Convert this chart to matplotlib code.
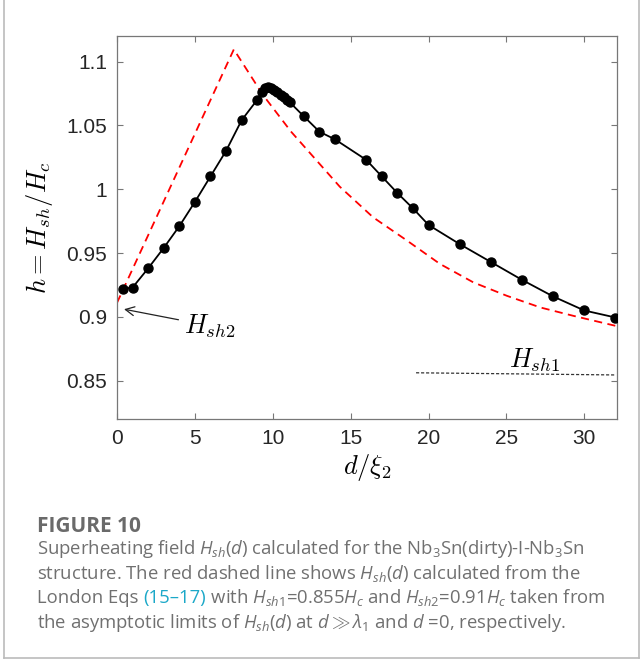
import matplotlib
matplotlib.use("Agg")
import matplotlib.pyplot as plt
from matplotlib.lines import Line2D

# numerical H_sh(d) (black dots)
d_num = [0.4, 1, 2, 3, 4, 5, 6, 7, 8, 9, 9.3, 9.5, 9.7, 9.9, 10.1, 10.3, 10.5,
         10.7, 10.9, 11.1, 12, 13, 14, 16, 17, 18, 19, 20, 22, 24, 26, 28, 30, 32]
h_num = [0.922, 0.923, 0.938, 0.954, 0.971, 0.990, 1.010, 1.030, 1.054, 1.070,
         1.076, 1.079, 1.080, 1.079, 1.078, 1.076, 1.074, 1.072, 1.070, 1.068,
         1.057, 1.045, 1.039, 1.023, 1.010, 0.997, 0.985, 0.972, 0.957, 0.943,
         0.929, 0.916, 0.905, 0.8995]

# London equations curve (red dashed)
d_lon = [0, 7.5, 9.36, 11.18, 14.3, 16.44, 18.59, 20.73, 22.88, 25.03, 27.17, 29.3, 32]
h_lon = [0.911, 1.1095, 1.074, 1.045, 1.002, 0.978, 0.960, 0.9415, 0.927, 0.9165,
         0.9074, 0.9008, 0.893]

# H_sh1 asymptote segment
d_sh1 = [19.2, 32]
h_sh1 = [0.8562, 0.8545]

xticks = [0, 5, 10, 15, 20, 25, 30]
yticks = [0.85, 0.9, 0.95, 1.0, 1.05, 1.1]
yticklabels = ['0.85', '0.9', '0.95', '1', '1.05', '1.1']

plt.rcParams.update({
    'font.family': 'Liberation Sans',
    'mathtext.fontset': 'custom',
    'mathtext.rm': 'Open Sans',
    'mathtext.it': 'Open Sans:italic',
    'mathtext.bf': 'Open Sans:bold',
})

W, H = 641, 661
fig = plt.figure(figsize=(W / 100, H / 100), dpi=100)
fig.patch.set_facecolor('white')
ax = fig.add_axes([117 / W, 1 - 419 / H, 500 / W, 383 / H])

ax.plot(d_lon, h_lon, color='#ff0000', lw=1.3, dashes=(4.5, 3), zorder=2)
ax.plot(d_num, h_num, color='black', lw=1.3, marker='o', ms=6.5, zorder=3)
ax.plot(d_sh1, h_sh1, color='#333333', lw=0.9, dashes=(2.5, 1.5), zorder=2)

ax.set_xlim(0, 32.1)
ax.set_ylim(0.82, 1.12)
ax.set_xticks(xticks)
ax.set_xticklabels([str(t) for t in xticks])
ax.set_yticks(yticks)
ax.set_yticklabels(yticklabels)
ax.tick_params(direction='in', length=4, width=0.8, colors='#777777',
               labelcolor='#262626', labelsize=15, top=True, right=True, pad=7)
for s in ax.spines.values():
    s.set_color('#777777')
    s.set_linewidth(0.9)

ax.set_xlabel(r'$d/\xi_2$', fontsize=19, math_fontfamily='cm', labelpad=3)
ax.set_ylabel(r'$h = H_{sh}/H_c$', fontsize=19, math_fontfamily='cm', labelpad=8)

ax.annotate(r'$H_{sh2}$', xy=(0.45, 0.906), xytext=(4.3, 0.893),
            fontsize=19, math_fontfamily='cm', va='center', ha='left',
            arrowprops=dict(arrowstyle='->', color='#222222', lw=0.9,
                            mutation_scale=16, shrinkA=2, shrinkB=0))
ax.text(26.8, 0.866, r'$H_{sh1}$', fontsize=19, math_fontfamily='cm',
        ha='center', va='center')

# outer frame
frame_col = '#bbbbbb'
fig.add_artist(Line2D([4 / W, 4 / W], [1 - 658 / H, 1.0], color=frame_col, lw=1.2))
fig.add_artist(Line2D([4 / W, 639 / W], [1 - 658 / H, 1 - 658 / H], color=frame_col, lw=1.2))
fig.add_artist(Line2D([639 / W, 639 / W], [1 - 658 / H, 1.0], color=frame_col, lw=1.2))

# caption
cap_col = '#707070'
link_col = '#1ba8c8'
fig.text(37 / W, 1 - 527 / H, 'FIGURE 10', fontsize=15, fontweight='bold',
         family='Open Sans', color='#6a6a6a', va='center')

lines = [
    [(r'Superheating field $H_{sh}(d)$ calculated for the Nb$_3$Sn(dirty)-I-Nb$_3$Sn', cap_col)],
    [(r'structure. The red dashed line shows $H_{sh}(d)$ calculated from the', cap_col)],
    [('London Eqs ', cap_col), ('(15–17)', link_col),
     (r' with $H_{sh1}$=0.855$H_c$ and $H_{sh2}$=0.91$H_c$ taken from', cap_col)],
    [(r'the asymptotic limits of $H_{sh}(d)$ at $d \gg \lambda_1$ and $d$ =0, respectively.', cap_col)],
]
line_y = [549, 574, 598, 623]

renderer = fig.canvas.get_renderer()
for segs, py in zip(lines, line_y):
    x = 37 / W
    for txt, col in segs:
        t = fig.text(x, 1 - py / H, txt, fontsize=13.3, family='Open Sans',
                     color=col, va='center', ha='left')
        bb = t.get_window_extent(renderer=renderer)
        x += bb.width / (W)

fig.savefig('out.png', dpi=100, facecolor='white')
